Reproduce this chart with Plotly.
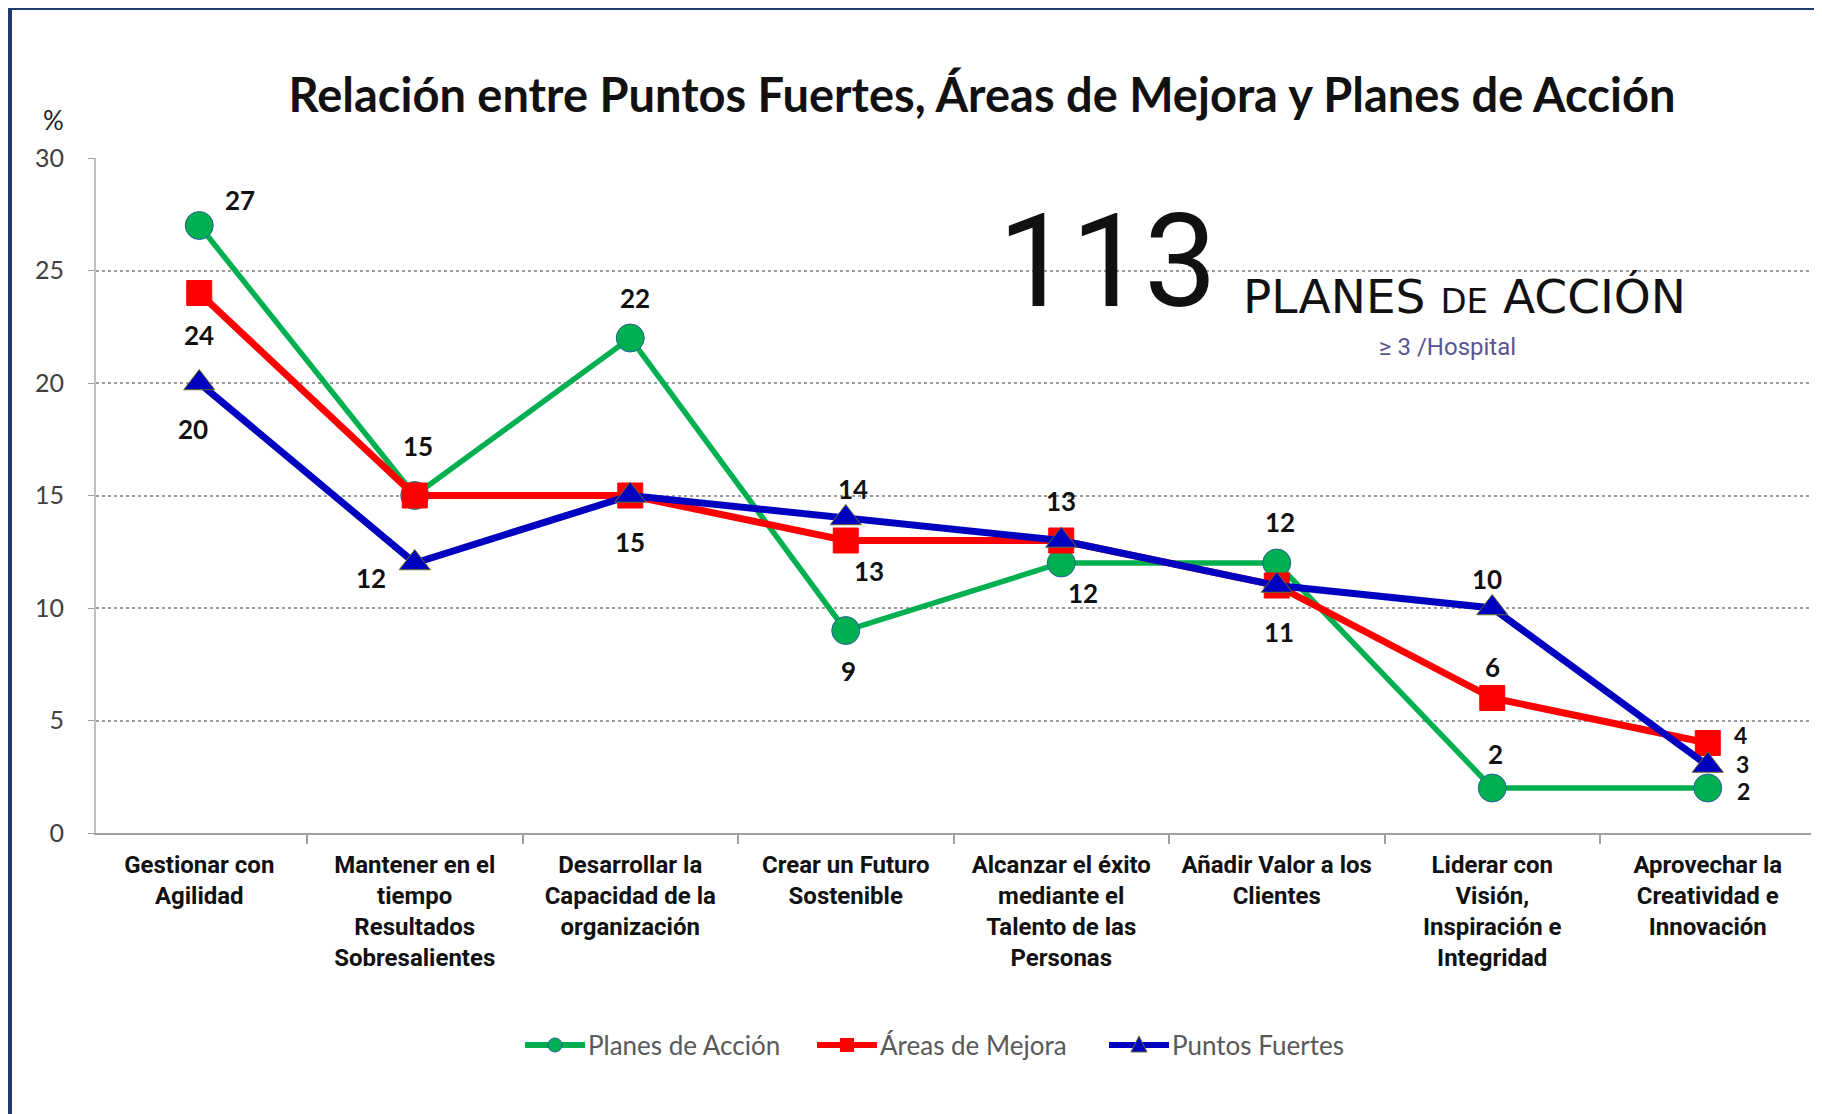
import plotly.graph_objects as go

categories = [
    "Gestionar con<br>Agilidad",
    "Mantener en el<br>tiempo<br>Resultados<br>Sobresalientes",
    "Desarrollar la<br>Capacidad de la<br>organización",
    "Crear un Futuro<br>Sostenible",
    "Alcanzar el éxito<br>mediante el<br>Talento de las<br>Personas",
    "Añadir Valor a los<br>Clientes",
    "Liderar con<br>Visión,<br>Inspiración e<br>Integridad",
    "Aprovechar la<br>Creatividad e<br>Innovación",
]
planes_accion = [27, 15, 22, 9, 12, 12, 2, 2]
areas_mejora = [24, 15, 15, 13, 13, 11, 6, 4]
puntos_fuertes = [20, 12, 15, 14, 13, 11, 10, 3]
series_names = ["Planes de Acción", "Áreas de Mejora", "Puntos Fuertes"]
y_ticks = [0, 5, 10, 15, 20, 25, 30]

# style: colours, markers, label offsets (px) per shown label: (dx, dy, font size)
colors = ["#00B050", "#FF0000", "#0000C0"]
symbols = ["circle", "square", "triangle-up"]
msizes = [28, 25, 27]
lwidths = [5.5, 7, 7]
outline = ["#2E5E9E", "#FF0000", "#6B6B2A"]
label_offsets = [
    {0: (41, 26, 26), 2: (5, 40, 26), 3: (3, -40, 26), 4: (22, -30, 26), 5: (3, 41, 26), 6: (3, 34, 26),
     7: (36, -3, 23)},
    {0: (0, -42, 26), 1: (3, 50, 26), 2: (0, -46, 26), 3: (23, -30, 26), 4: (0, 40, 26), 6: (0, 31, 26),
     7: (33, 8, 23)},
    {0: (-6, -46, 26), 1: (-44, -15, 26), 3: (7, 29, 26), 5: (2, -46, 26), 6: (-5, 29, 26),
     7: (35, 2, 23)},
]

W, H = 1822, 1114
OFF = 8  # page body margin
AX_L, AX_R, AX_T, AX_B = 96, 1811, 158, 833  # plot area in page pixels
ML, MT = AX_L - OFF, AX_T - OFF
MR = W - (AX_R - OFF)
MB = H - (AX_B - OFF)
PW, PH = W - ML - MR, H - MT - MB


def px2x(px):
    return (px - OFF - ML) / PW


def px2y(py):
    return (H - MB - (py - OFF)) / PH


fig = go.Figure()
all_series = [planes_accion, areas_mejora, puntos_fuertes]
for i, vals in enumerate(all_series):
    fig.add_trace(go.Scatter(
        x=categories, y=vals, name=series_names[i], mode="lines+markers",
        line=dict(color=colors[i], width=lwidths[i]),
        marker=dict(symbol=symbols[i], size=msizes[i], color=colors[i],
                    line=dict(width=1, color=outline[i])),
        cliponaxis=False, showlegend=False,
    ))

annotations = []
for i, vals in enumerate(all_series):
    for j, (dx, dy, fs) in label_offsets[i].items():
        annotations.append(dict(
            x=categories[j], y=vals[j], xref="x", yref="y", text=str(vals[j]),
            showarrow=False, xshift=dx, yshift=dy, xanchor="center", yanchor="middle",
            font=dict(family="Lato", size=fs, color="#111111", weight="bold"),
        ))


def note(px, py, text, font, xanchor="center"):
    return dict(x=px2x(px), y=px2y(py), xref="paper", yref="paper", text=text, showarrow=False,
                xanchor=xanchor, yanchor="middle", font=font)


annotations += [
    note(53, 120, "%", dict(family="Lato", size=26, color="#222222")),
    note(1107, 262, "113", dict(family="Roboto", size=130, color="#111111", weight=400)),
    note(1464, 296, "PLANES <span style='font-size:34px'>DE</span> ACCIÓN",
         dict(family="DejaVu Sans", size=47, color="#111111")),
    note(1447, 347, "≥ 3 /Hospital", dict(family="Roboto", size=24, color="#5A5590")),
]

shapes = [
    dict(type="rect", xref="paper", yref="paper", x0=px2x(1014), x1=px2x(1691),
         y0=px2y(330), y1=px2y(235), fillcolor="white", line=dict(width=0), layer="between"),
    dict(type="line", xref="paper", yref="paper", x0=px2x(10), x1=px2x(W + 40),
         y0=px2y(8), y1=px2y(8), line=dict(color="#1F3A6E", width=4)),
    dict(type="line", xref="paper", yref="paper", x0=px2x(10), x1=px2x(10),
         y0=px2y(8), y1=px2y(H + 40), line=dict(color="#1F3A6E", width=4)),
]

# manual legend (line + marker + text)
leg_y = 1045
leg_starts = [525, 817, 1109]
leg_len = 60
for i, name in enumerate(series_names):
    x0 = leg_starts[i]
    shapes.append(dict(type="line", xref="paper", yref="paper", x0=px2x(x0), x1=px2x(x0 + leg_len),
                       y0=px2y(leg_y), y1=px2y(leg_y), line=dict(color=colors[i], width=6)))
    cx = x0 + leg_len / 2
    r = 7
    if symbols[i] == "circle":
        shapes.append(dict(type="circle", xref="paper", yref="paper", x0=px2x(cx - r), x1=px2x(cx + r),
                           y0=px2y(leg_y + r), y1=px2y(leg_y - r), fillcolor=colors[i],
                           line=dict(color=outline[i], width=1)))
    elif symbols[i] == "square":
        shapes.append(dict(type="rect", xref="paper", yref="paper", x0=px2x(cx - r), x1=px2x(cx + r),
                           y0=px2y(leg_y + r), y1=px2y(leg_y - r), fillcolor=colors[i],
                           line=dict(width=0)))
    else:
        path = "M {} {} L {} {} L {} {} Z".format(
            px2x(cx - r - 1), px2y(leg_y + r), px2x(cx + r + 1), px2y(leg_y + r), px2x(cx), px2y(leg_y - r - 2))
        shapes.append(dict(type="path", xref="paper", yref="paper", path=path, fillcolor=colors[i],
                           line=dict(color=outline[i], width=1)))
    annotations.append(note(x0 + leg_len + 1, leg_y, name,
                            dict(family="Lato", size=26, color="#595959"), xanchor="left"))

fig.update_layout(
    width=W, height=H, margin=dict(l=ML, r=MR, t=MT, b=MB, pad=0),
    paper_bgcolor="white", plot_bgcolor="white",
    title=dict(text="Relación entre Puntos Fuertes, Áreas de Mejora y Planes de Acción",
               x=px2x(982), xref="paper", xanchor="center", y=1 - (96 - OFF) / H, yanchor="middle",
               font=dict(family="Lato", size=47, color="#111111", weight="bold")),
    showlegend=False,
    annotations=annotations, shapes=shapes,
)
fig.update_xaxes(
    type="category", showgrid=False, showline=True, linecolor="#A0A0A0", linewidth=2,
    ticks="outside", tickson="boundaries", ticklen=9, tickcolor="#A0A0A0", tickwidth=2,
    tickfont=dict(family="Roboto", size=24, color="#111111", weight="bold"),
    ticklabelstandoff=9,
)
fig.update_yaxes(
    range=[0, 30], tickvals=y_ticks, showgrid=True, gridcolor="#9A9A9A", griddash="dot", gridwidth=2,
    showline=True, linecolor="#C0C0C0", linewidth=2, ticks="outside", ticklen=6, tickcolor="#A0A0A0",
    tickfont=dict(family="Lato", size=25, color="#404040"), zeroline=False, ticklabelstandoff=19,
)

fig.write_html("out.html")
